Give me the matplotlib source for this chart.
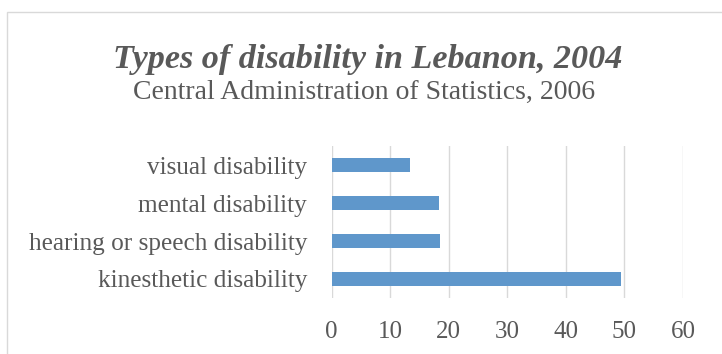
import matplotlib
matplotlib.use("Agg")
import matplotlib.pyplot as plt
from matplotlib.patches import Rectangle

categories = ["kinesthetic disability", "hearing or speech disability",
              "mental disability", "visual disability"]
values = [49.5, 18.5, 18.4, 13.4]
xticks = [0, 10, 20, 30, 40, 50, 60]

title = "Types of disability in Lebanon, 2004"
subtitle = "Central Administration of Statistics, 2006"

W, H = 722, 354
fig = plt.figure(figsize=(W / 100, H / 100), dpi=100)
fig.patch.set_facecolor("white")

# chart border (cropped at bottom/right)
fig.add_artist(Rectangle((7 / W, -0.1), 1.0, (H - 12) / H + 0.1,
                         transform=fig.transFigure, fill=False,
                         edgecolor="#d9d9d9", linewidth=1.0))

ax = fig.add_axes([331.5 / W, 1 - 298 / H, 351.5 / W, 152 / H])
ypos = list(range(len(categories)))
ax.barh(ypos, values, height=0.36, color="#5f97cb", zorder=3)
ax.set_xlim(0, 60)
ax.set_ylim(-0.5, len(categories) - 0.5)
ax.set_xticks(xticks)
ax.set_xticklabels([str(t) for t in xticks])
ax.set_yticks(ypos)
ax.set_yticklabels(categories)
ax.grid(axis="x", color="#d9d9d9", linewidth=1.0, zorder=0)
for s in ax.spines.values():
    s.set_visible(False)
ax.tick_params(axis="both", length=0, colors="#595959")
ax.tick_params(axis="x", pad=16.5, labelsize=18)
ax.tick_params(axis="y", pad=17.5, labelsize=18.2)
for lab in ax.get_xticklabels() + ax.get_yticklabels():
    lab.set_fontfamily("Liberation Serif")
    lab.set_color("#595959")

fig.text(367.5 / W, 1 - 68 / H, title, ha="center", va="baseline",
         fontsize=24.6, fontweight="bold", fontstyle="italic",
         family="Liberation Serif", color="#595959")
fig.text(364 / W, 1 - 99 / H, subtitle, ha="center", va="baseline",
         fontsize=20, family="Liberation Serif", color="#595959")

fig.savefig("out.png", dpi=100)
